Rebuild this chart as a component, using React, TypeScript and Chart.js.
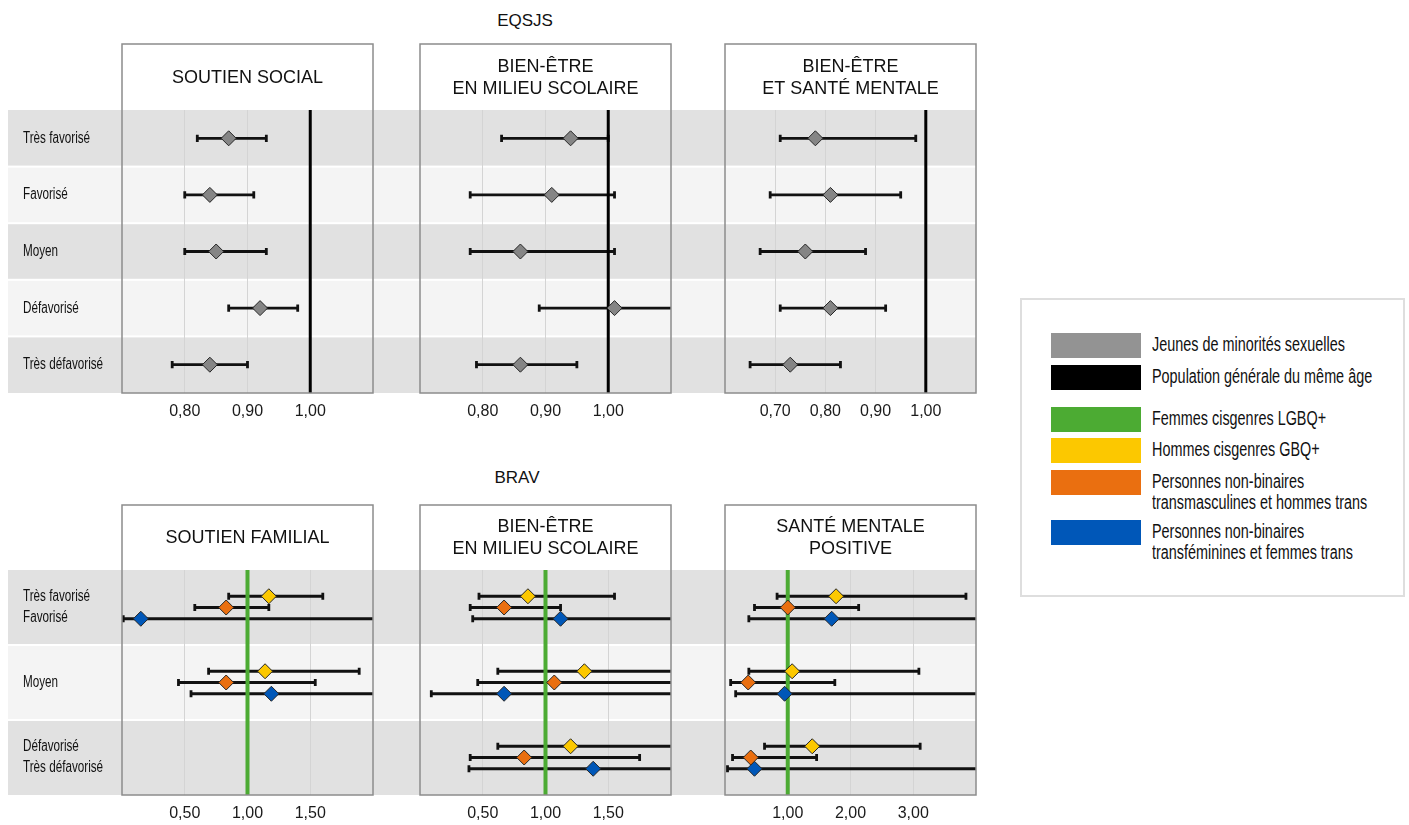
import React, { useEffect, useRef } from 'react';
import { Chart, registerables } from 'chart.js';

Chart.register(...registerables);

// ---------- rows ----------
const TOP_ROWS = ['Très favorisé', 'Favorisé', 'Moyen', 'Défavorisé', 'Très défavorisé'];
const BOTTOM_ROWS = [['Très favorisé', 'Favorisé'], ['Moyen'], ['Défavorisé', 'Très défavorisé']];

// ---------- tick values ----------
const TICKS_OR_A = [0.8, 0.9, 1.0];
const TICKS_OR_B = [0.7, 0.8, 0.9, 1.0];
const TICKS_BRAV_A = [0.5, 1.0, 1.5];
const TICKS_BRAV_B = [1, 2, 3];

// ---------- EQSJS : jeunes de minorités sexuelles (rapport vs population générale) ----------
const socialEst = [0.87, 0.84, 0.85, 0.92, 0.84];
const socialLow = [0.82, 0.80, 0.80, 0.87, 0.78];
const socialHigh = [0.93, 0.91, 0.93, 0.98, 0.90];

const ecoleEst = [0.94, 0.91, 0.86, 1.01, 0.86];
const ecoleLow = [0.83, 0.78, 0.78, 0.89, 0.79];
const ecoleHigh = [1.00, 1.01, 1.01, 1.14, 0.95];

const santeEst = [0.78, 0.81, 0.76, 0.81, 0.73];
const santeLow = [0.71, 0.69, 0.67, 0.71, 0.65];
const santeHigh = [0.98, 0.95, 0.88, 0.92, 0.83];

// ---------- BRAV : groupes comparés aux femmes cisgenres LGBQ+ ----------
// Soutien familial
const famHommesEst = [1.17, 1.14, null];
const famHommesLow = [0.85, 0.69, null];
const famHommesHigh = [1.60, 1.89, null];
const famTmascEst = [0.83, 0.83, null];
const famTmascLow = [0.58, 0.45, null];
const famTmascHigh = [1.17, 1.54, null];
const famTfemEst = [0.15, 1.19, null];
const famTfemLow = [0.01, 0.55, null];
const famTfemHigh = [3.20, 2.60, null];

// Bien-être en milieu scolaire
const ecoHommesEst = [0.86, 1.31, 1.20];
const ecoHommesLow = [0.47, 0.62, 0.62];
const ecoHommesHigh = [1.55, 2.70, 2.30];
const ecoTmascEst = [0.67, 1.07, 0.83];
const ecoTmascLow = [0.40, 0.46, 0.40];
const ecoTmascHigh = [1.12, 2.45, 1.75];
const ecoTfemEst = [1.12, 0.67, 1.38];
const ecoTfemLow = [0.42, 0.09, 0.39];
const ecoTfemHigh = [2.90, 4.80, 4.60];

// Santé mentale positive
const smpHommesEst = [1.77, 1.07, 1.39];
const smpHommesLow = [0.83, 0.38, 0.63];
const smpHommesHigh = [3.84, 3.09, 3.11];
const smpTmascEst = [1.00, 0.37, 0.41];
const smpTmascLow = [0.47, 0.09, 0.12];
const smpTmascHigh = [2.13, 1.75, 1.46];
const smpTfemEst = [1.70, 0.95, 0.47];
const smpTfemLow = [0.38, 0.17, 0.04];
const smpTfemHigh = [7.50, 5.60, 6.20];

// ---------- legend ----------
const LEGEND_LABELS = [
  ['Jeunes de minorités sexuelles'],
  ['Population générale du même âge'],
  ['Femmes cisgenres LGBQ+'],
  ['Hommes cisgenres GBQ+'],
  ['Personnes non-binaires', 'transmasculines et hommes trans'],
  ['Personnes non-binaires', 'transféminines et femmes trans'],
];

// ---------- styles ----------
const GRAY = '#858585';
const BLACK = '#000000';
const GREEN = '#4cab33';
const YELLOW = '#fcc800';
const ORANGE = '#ea6f10';
const BLUE = '#0057b8';
const LEGEND_COLORS = ['#939393', BLACK, GREEN, YELLOW, ORANGE, BLUE];
const LEGEND_TOPS = [35, 67, 109, 140, 172, 222];

const BAND_DARK = '#e1e1e1';
const BAND_LIGHT = '#f4f4f4';
const FRAME = '#8c8c8c';
const SANS = '"Liberation Sans", Arial, sans-serif';
const CONDENSE = 0.73; // horizontal squeeze for the narrow row labels

type Val = number | null;
interface Series {
  label: string;
  color: string;
  est: Val[];
  low: Val[];
  high: Val[];
  offset: number;
}
interface PanelSpec {
  title: string[];
  x: number; y: number; w: number; h: number;
  pad: { left: number; right: number; top: number; bottom: number };
  titleH: number;
  xMin: number; xMax: number; ticks: number[];
  rows: (string | string[])[];
  showRows: boolean;
  bandToEdge: boolean;
  refColor: string; refWidth: number;
  series: Series[];
}

const gray = (est: Val[], low: Val[], high: Val[]): Series[] => [
  { label: 'Jeunes de minorités sexuelles', color: GRAY, est, low, high, offset: 0 },
];
const trio = (h: Val[][], m: Val[][], f: Val[][]): Series[] => [
  { label: 'Hommes cisgenres GBQ+', color: YELLOW, est: h[0], low: h[1], high: h[2], offset: -0.15 },
  { label: 'Personnes non-binaires transmasculines et hommes trans', color: ORANGE, est: m[0], low: m[1], high: m[2], offset: 0 },
  { label: 'Personnes non-binaires transféminines et femmes trans', color: BLUE, est: f[0], low: f[1], high: f[2], offset: 0.15 },
];

const TOP = { y: 43, h: 380, top: 67, bottom: 3, titleH: 66 };
const BOT = { y: 504, h: 321, top: 66, bottom: 3, titleH: 65 };
const COLS = [
  { x: 8, w: 367, left: 114, right: 2, showRows: true, bandToEdge: true },
  { x: 375, w: 298, left: 45, right: 2, showRows: false, bandToEdge: true },
  { x: 673, w: 305, left: 52, right: 2, showRows: false, bandToEdge: false },
];

function panel(row: typeof TOP, col: typeof COLS[number], rest: Omit<PanelSpec, 'x' | 'y' | 'w' | 'h' | 'pad' | 'titleH' | 'showRows' | 'bandToEdge'>): PanelSpec {
  return {
    ...rest,
    x: col.x, y: row.y, w: col.w, h: row.h,
    pad: { left: col.left, right: col.right, top: row.top, bottom: row.bottom },
    titleH: row.titleH, showRows: col.showRows, bandToEdge: col.bandToEdge,
  };
}

const PANELS: PanelSpec[] = [
  panel(TOP, COLS[0], { title: ['SOUTIEN SOCIAL'], xMin: 0.7, xMax: 1.1, ticks: TICKS_OR_A, rows: TOP_ROWS, refColor: BLACK, refWidth: 3, series: gray(socialEst, socialLow, socialHigh) }),
  panel(TOP, COLS[1], { title: ['BIEN-ÊTRE', 'EN MILIEU SCOLAIRE'], xMin: 0.7, xMax: 1.1, ticks: TICKS_OR_A, rows: TOP_ROWS, refColor: BLACK, refWidth: 3, series: gray(ecoleEst, ecoleLow, ecoleHigh) }),
  panel(TOP, COLS[2], { title: ['BIEN-ÊTRE', 'ET SANTÉ MENTALE'], xMin: 0.6, xMax: 1.1, ticks: TICKS_OR_B, rows: TOP_ROWS, refColor: BLACK, refWidth: 3, series: gray(santeEst, santeLow, santeHigh) }),
  panel(BOT, COLS[0], {
    title: ['SOUTIEN FAMILIAL'], xMin: 0, xMax: 2, ticks: TICKS_BRAV_A, rows: BOTTOM_ROWS, refColor: GREEN, refWidth: 4,
    series: trio([famHommesEst, famHommesLow, famHommesHigh], [famTmascEst, famTmascLow, famTmascHigh], [famTfemEst, famTfemLow, famTfemHigh]),
  }),
  panel(BOT, COLS[1], {
    title: ['BIEN-ÊTRE', 'EN MILIEU SCOLAIRE'], xMin: 0, xMax: 2, ticks: TICKS_BRAV_A, rows: BOTTOM_ROWS, refColor: GREEN, refWidth: 4,
    series: trio([ecoHommesEst, ecoHommesLow, ecoHommesHigh], [ecoTmascEst, ecoTmascLow, ecoTmascHigh], [ecoTfemEst, ecoTfemLow, ecoTfemHigh]),
  }),
  panel(BOT, COLS[2], {
    title: ['SANTÉ MENTALE', 'POSITIVE'], xMin: 0, xMax: 4, ticks: TICKS_BRAV_B, rows: BOTTOM_ROWS, refColor: GREEN, refWidth: 4,
    series: trio([smpHommesEst, smpHommesLow, smpHommesHigh], [smpTmascEst, smpTmascLow, smpTmascHigh], [smpTfemEst, smpTfemLow, smpTfemHigh]),
  }),
];

// Bands, frame, panel title, row labels, reference line and confidence intervals
function decorPlugin(spec: PanelSpec) {
  return {
    id: 'panelDecor',
    beforeDraw(chart: any) {
      const { ctx, chartArea: a, scales } = chart;
      const ys = scales.y;
      const n = spec.rows.length;
      ctx.save();
      ctx.fillStyle = '#ffffff';
      ctx.fillRect(a.left, a.top - spec.titleH, a.right - a.left, spec.titleH);
      const xEnd = spec.bandToEdge ? chart.width : a.right;
      for (let i = 0; i < n; i++) {
        const p0 = ys.getPixelForValue(i);
        const p1 = ys.getPixelForValue(i + 1);
        const t = Math.min(p0, p1) + (i > 0 ? 1 : 0);
        const b = Math.max(p0, p1) - (i < n - 1 ? 1 : 0);
        ctx.fillStyle = i % 2 === 0 ? BAND_DARK : BAND_LIGHT;
        ctx.fillRect(0, t, xEnd, b - t);
      }
      if (spec.showRows) {
        ctx.fillStyle = '#111111';
        ctx.font = `16px ${SANS}`;
        ctx.textAlign = 'left';
        ctx.textBaseline = 'middle';
        spec.rows.forEach((row, i) => {
          const lines = Array.isArray(row) ? row : [row];
          const cy = ys.getPixelForValue(i + 0.5);
          lines.forEach((line, k) => {
            ctx.save();
            ctx.translate(15, cy + (k - (lines.length - 1) / 2) * 21);
            ctx.scale(CONDENSE, 1);
            ctx.fillText(line, 0, 0);
            ctx.restore();
          });
        });
      }
      ctx.restore();
    },
    beforeDatasetsDraw(chart: any) {
      const { ctx, chartArea: a, scales } = chart;
      const xs = scales.x;
      const ys = scales.y;
      ctx.save();
      ctx.beginPath();
      ctx.rect(a.left, a.top, a.right - a.left, a.bottom - a.top);
      ctx.clip();
      ctx.strokeStyle = '#111111';
      ctx.lineWidth = 2.8;
      chart.data.datasets.forEach((ds: any) => {
        ds.data.forEach((pt: any) => {
          const yp = ys.getPixelForValue(pt.y);
          const xl = xs.getPixelForValue(pt.lo);
          const xh = xs.getPixelForValue(pt.hi);
          ctx.beginPath();
          ctx.moveTo(xl, yp);
          ctx.lineTo(xh, yp);
          if (pt.lo >= spec.xMin) { ctx.moveTo(xl, yp - 3.6); ctx.lineTo(xl, yp + 3.6); }
          if (pt.hi <= spec.xMax) { ctx.moveTo(xh, yp - 3.6); ctx.lineTo(xh, yp + 3.6); }
          ctx.stroke();
        });
      });
      const xr = xs.getPixelForValue(1);
      ctx.strokeStyle = spec.refColor;
      ctx.lineWidth = spec.refWidth;
      ctx.beginPath();
      ctx.moveTo(xr, a.top);
      ctx.lineTo(xr, a.bottom);
      ctx.stroke();
      ctx.restore();
    },
    afterDraw(chart: any) {
      const { ctx, chartArea: a } = chart;
      ctx.save();
      ctx.strokeStyle = FRAME;
      ctx.lineWidth = 1.5;
      ctx.strokeRect(a.left, a.top - spec.titleH, a.right - a.left, a.bottom - a.top + spec.titleH);
      ctx.fillStyle = '#111111';
      ctx.font = `18px ${SANS}`;
      ctx.textAlign = 'center';
      ctx.textBaseline = 'middle';
      const cx = (a.left + a.right) / 2;
      const cy = a.top - spec.titleH / 2 + 1;
      const lh = 22;
      spec.title.forEach((line, i) => {
        ctx.fillText(line, cx, cy + (i - (spec.title.length - 1) / 2) * lh);
      });
      ctx.restore();
    },
  };
}

function buildConfig(spec: PanelSpec): any {
  const datasets = spec.series.map((s) => ({
    type: 'scatter',
    label: s.label,
    data: s.est
      .map((v, j) => (v == null ? null : { x: v, y: j + 0.5 + s.offset, lo: s.low[j], hi: s.high[j] }))
      .filter((p) => p !== null),
    backgroundColor: s.color,
    borderColor: '#262626',
    borderWidth: 1,
    pointStyle: 'rectRot',
    pointRadius: 7.5,
    pointHoverRadius: 7.5,
    showLine: false,
  }));
  return {
    type: 'scatter',
    data: { datasets },
    options: {
      animation: false,
      responsive: false,
      events: [],
      layout: { padding: spec.pad, autoPadding: false },
      plugins: { legend: { display: false }, tooltip: { enabled: false }, title: { display: false } },
      scales: {
        x: {
          type: 'linear',
          position: 'bottom',
          min: spec.xMin,
          max: spec.xMax,
          afterBuildTicks: (scale: any) => { scale.ticks = spec.ticks.map((v) => ({ value: v })); },
          afterFit: (scale: any) => {
            scale.height = 27;
            scale.paddingLeft = 0;
            scale.paddingRight = 0;
          },
          grid: { color: '#d4d4d4', lineWidth: 1, drawTicks: false },
          border: { display: false },
          ticks: {
            padding: 9,
            autoSkip: false,
            maxRotation: 0,
            color: '#1a1a1a',
            font: { family: SANS, size: 16 },
            callback: (v: any) => Number(v).toFixed(2).replace('.', ','),
          },
        },
        y: {
          type: 'linear',
          min: 0,
          max: spec.rows.length,
          reverse: true,
          display: false,
        },
      },
    },
    plugins: [decorPlugin(spec)],
  };
}

function Panel({ spec }: { spec: PanelSpec }) {
  const ref = useRef<HTMLCanvasElement>(null);
  useEffect(() => {
    const chart = new Chart(ref.current as HTMLCanvasElement, buildConfig(spec));
    return () => chart.destroy();
  }, [spec]);
  return (
    <canvas
      ref={ref}
      width={spec.w}
      height={spec.h}
      style={{ position: 'absolute', left: spec.x, top: spec.y, width: spec.w, height: spec.h, display: 'block' }}
    />
  );
}

function Legend() {
  return (
    <div
      style={{
        position: 'absolute', left: 1020, top: 298, width: 381, height: 295,
        border: '2px solid #dedede', background: '#ffffff',
      }}
    >
      {LEGEND_LABELS.map((lines, i) => (
        <React.Fragment key={i}>
          <div style={{ position: 'absolute', left: 29, top: LEGEND_TOPS[i] - 2, width: 90, height: 25, background: LEGEND_COLORS[i] }} />
          <div
            style={{
              position: 'absolute', left: 130, top: LEGEND_TOPS[i] - 1, whiteSpace: 'nowrap',
              fontFamily: SANS, fontSize: 20, lineHeight: '21px', color: '#111111',
              transform: 'scaleX(0.72)', transformOrigin: 'left top',
            }}
          >
            {lines.map((l, k) => <div key={k}>{l}</div>)}
          </div>
        </React.Fragment>
      ))}
    </div>
  );
}

export default function App() {
  const heading = { position: 'absolute' as const, width: 200, textAlign: 'center' as const, fontFamily: SANS, fontSize: 17, lineHeight: '20px', color: '#111111' };
  return (
    <div style={{ position: 'absolute', left: 0, top: 0, width: 1409, height: 825, background: '#ffffff', overflow: 'hidden' }}>
      <div style={{ ...heading, left: 425, top: 11 }}>EQSJS</div>
      <div style={{ ...heading, left: 417, top: 468 }}>BRAV</div>
      {PANELS.map((p, i) => <Panel key={i} spec={p} />)}
      <Legend />
    </div>
  );
}
